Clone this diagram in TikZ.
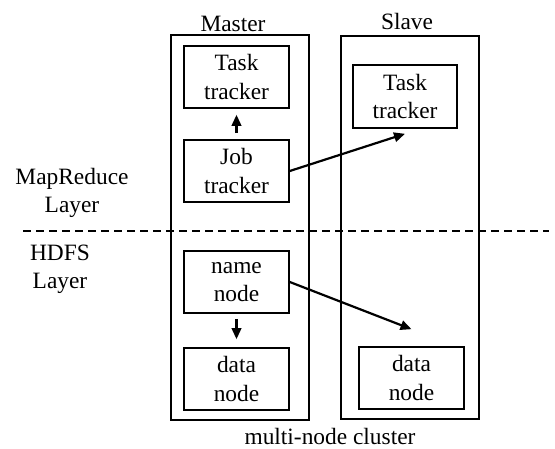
\documentclass[tikz,border=0pt]{standalone}
\usepackage{fontspec}
\setmainfont{Liberation Serif}
\usetikzlibrary{arrows.meta}
\begin{document}
\begin{tikzpicture}[x=1pt,y=-1pt,
  txt/.style={font=\fontsize{23.4}{28.3}\selectfont, align=center, inner sep=0pt},
  outerbox/.style={draw, line width=1.6pt, inner sep=0pt},
  innerbox/.style={draw, line width=1.6pt, inner sep=0pt, minimum width=105pt, minimum height=62pt, font=\fontsize{23.4}{28.3}\selectfont, align=center},
  arr/.style={line width=2.2pt, -{Triangle[length=11pt,width=9.5pt]}},
  layerline/.style={line width=1.5pt, dash pattern=on 8pt off 5pt}
]
\useasboundingbox (0,0) rectangle (555,449);
% clusters
\node[outerbox, minimum width=138pt, minimum height=385pt] (master) at (240,227.5) {};
\node[outerbox, minimum width=138pt, minimum height=383pt] (slave) at (410,227.5) {};
\node[txt, anchor=base] (mlabel) at (233,31.5) {Master};
\node[txt, anchor=base] (slabel) at (407,29.5) {Slave};
% inner boxes
\node[innerbox] (mtask) at (236.5,77) {Task\\tracker};
\node[innerbox] (job) at (236.5,171) {Job\\tracker};
\node[innerbox] (name) at (236.5,282) {name\\node};
\node[innerbox] (mdata) at (236.5,379) {data\\node};
\node[innerbox, minimum width=104pt, minimum height=63pt] (stask) at (405,96.5) {Task\\tracker};
\node[innerbox] (sdata) at (411.5,378) {data\\node};
% layer separator
\coordinate (dl) at (23,231);
\coordinate (dr) at (549,231);
\draw[layerline] (dl) -- (dr);
% layer labels
\node[txt] (mr) at (72,193) {MapReduce\\Layer};
\node[txt] (hdfs) at (60,269) {HDFS\\Layer};
% caption
\node[txt, anchor=base] (cap) at (330,445) {multi-node cluster};
% arrows
\draw[arr, shorten <=6pt, shorten >=6pt] (job.north) -- (mtask.south);
\draw[arr, shorten <=5pt, shorten >=8pt] (name.south) -- (mdata.north);
\draw[arr] (job.east) -- ([yshift=-5pt]stask.south);
\draw[arr] (name.east) -- ([yshift=17pt]sdata.north);
\end{tikzpicture}
\end{document}
